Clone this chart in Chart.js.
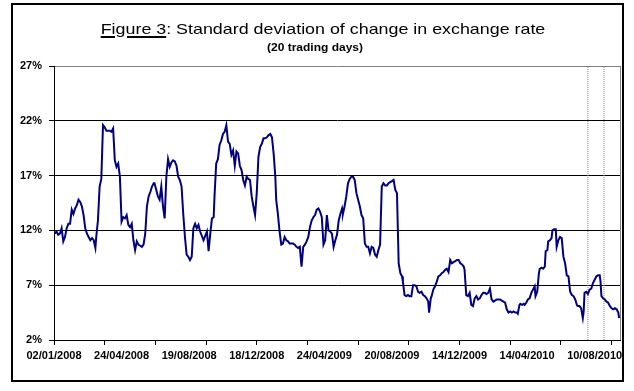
<!DOCTYPE html>
<html>
<head>
<meta charset="utf-8">
<script src="https://cdn.jsdelivr.net/npm/chart.js@4.4.0/dist/chart.umd.min.js"></script>
<style>
  html, body { margin: 0; padding: 0; background: #fff; }
  #wrap { position: relative; width: 634px; height: 391px; overflow: hidden; font-family: "Liberation Sans", Arial, sans-serif; }
  #frame { position: absolute; left: 11px; top: 3px; width: 613px; height: 379px; box-sizing: border-box; border: 2px solid #000; }
  canvas { position: absolute; left: 0; top: 0; }
  .ttl { position: absolute; white-space: nowrap; color: #000; line-height: 1; }
  #title { left: 323px; top: 21px; font-size: 15px; transform: translateX(-50%) scaleX(1.19); }
  #title u { text-decoration-thickness: 2px; text-underline-offset: 2px; }
  #sub { left: 315px; top: 43px; font-size: 10px; font-weight: bold; transform: translateX(-50%) scaleX(1.2); }
</style>
</head>
<body>
<div id="wrap">
  <div id="frame"></div>
  <canvas id="volChart" width="634" height="391"></canvas>
  <div id="title" class="ttl"><u>Figure 3</u>: Standard deviation of change in exchange rate</div>
  <div id="sub" class="ttl">(20 trading days)</div>
</div>
<script>
// trading day number (0 = 02/01/2008)
var tradingDay = [
  // 2008
  1,3,5,7,9,11,13,15,17,19,21,23,25,27,29,31,33,35,37,39,41,43,45,47,49,
  50,52,54,56,58,60,62,64,66,68,70,72,74,76,78,80,82,84,86,88,90,92,94,96,98,
  100,102,104,106,108,110,112,114,116,118,119,121,123,125,127,129,131,133,135,137,
  139,141,143,145,147,149,151,153,155,157,159,161,163,165,167,169,171,173,
  177,181,183,185,187,189,190,192,194,196,198,200,202,204,206,208,210,212,214,216,
  218,220,222,224,226,228,230,232,234,236,238,240,242,244,246,248,250,252,254,256,
  258,260,262,263,265,267,269,271,273,275,277,279,281,283,285,287,289,291,293,295,
  297,299,301,303,305,307,309,311,313,315,317,319,321,323,325,327,329,331,333,335,
  337,339,341,342,344,346,348,350,352,354,356,358,360,362,364,366,368,370,372,374,
  376,378,380,382,384,386,388,390,392,394,396,398,400,402,404,406,408,410,
  // after 20/08/2009
  412,413,415,417,419,421,423,425,427,429,431,433,435,437,439,441,443,444,446,447,
  449,451,453,455,457,459,461,463,465,467,469,471,473,475,477,479,481,483,485,486,
  488,490,492,494,496,498,500,502,504,506,508,510,512,514,516,518,520,522,524,526,
  528,530,532,534,536,538,540,542,544,546,548,549,551,552,554,556,557,559,561,563,
  565,567,569,570,572,574,575,577,579,581,582,584,585,587,589,590,592,594,595,597,
  599,601,603,605,607,609,611,613,615,617,619,620,622,624,626,627,628,630,632,634,
  636,638,640,642,644,646,647,648,650,652,654,656,658,660,662,664,666,668,669
];

// standard deviation (%)
var stdDev = [
  11.7,11.9,11.6,11.7,12.2,11.0,11.4,12.2,12.6,12.6,13.9,13.5,14.0,14.3,14.8,14.6,14.2,13.4,12.2,11.7,
  11.4,11.1,11.3,11.1,10.4,11.4,12.9,16.0,16.7,21.6,21.4,21.1,21.1,21.1,21.0,21.3,18.4,17.8,18.1,16.9,
  12.8,13.2,13.1,13.4,12.5,12.3,12.6,11.1,10.2,11.0,10.7,10.6,10.5,10.7,11.7,14.2,15.1,15.5,16.0,16.3,
  16.3,15.7,15.1,14.8,16.0,14.2,13.1,16.9,18.5,17.8,18.2,18.4,18.3,17.9,16.9,16.6,16.0,13.5,11.4,9.8,
  9.6,9.3,9.6,12.2,12.6,12.2,12.5,11.9,
  11.1,11.9,10.1,11.7,13.1,13.2,15.1,18.1,18.5,19.8,20.2,20.8,21.0,21.6,20.1,19.9,18.9,19.3,17.9,19.2,
  19.0,17.9,17.5,16.6,16.1,16.9,16.7,16.6,15.1,14.2,13.4,15.4,18.7,19.6,19.9,20.4,20.4,20.5,20.7,20.8,
  20.5,19.0,16.9,14.8,13.5,11.9,10.7,10.8,11.4,11.1,11.0,10.8,10.8,10.8,10.7,10.5,10.4,10.5,8.7,10.5,
  10.7,11.0,11.4,12.3,12.9,13.2,13.4,13.9,14.0,13.7,13.2,10.7,11.1,13.4,12.0,11.9,11.7,10.5,11.1,11.6,
  12.9,13.5,14.0,13.5,14.2,15.1,16.3,16.7,16.9,16.9,16.6,15.4,14.8,14.2,13.4,13.1,10.8,10.5,10.5,9.9,
  10.5,10.4,9.8,9.6,10.2,10.7,16.0,16.3,16.1,16.1,16.3,16.4,16.5,16.6,15.7,15.4,9.0,8.1,
  7.8,7.3,6.1,6.0,6.1,6.0,6.0,7.0,7.0,6.9,6.4,6.3,6.4,6.1,6.0,5.8,5.5,4.5,5.8,6.0,
  6.6,6.9,7.3,7.8,7.9,8.1,8.2,8.4,8.5,8.2,9.3,9.0,9.1,9.2,9.3,9.3,9.0,8.9,8.7,8.4,
  6.1,6.0,6.3,5.2,5.1,5.8,6.0,5.7,5.8,6.1,6.3,6.3,6.2,6.3,6.7,5.7,5.5,5.6,5.7,5.7,
  5.7,5.6,5.5,5.4,4.8,4.5,4.6,4.5,4.6,4.5,4.5,4.4,5.2,5.3,5.2,5.3,5.2,5.4,5.7,5.8,
  6.3,6.6,6.9,6.0,6.4,8.1,8.5,8.6,8.5,8.7,10.1,10.2,11.0,11.1,11.3,12.0,12.1,12.1,10.5,11.1,
  11.4,11.3,9.6,9.0,7.9,7.8,6.4,6.1,6.0,5.7,5.2,5.1,5.1,4.9,4.0,4.6,6.3,6.4,6.2,6.6,
  6.7,7.2,7.5,7.8,7.9,7.9,7.3,6.0,5.8,5.7,5.5,5.4,5.1,4.9,4.8,4.9,4.8,4.5,4.0
];

// date labels and the trading day each one sits on
var xLabels = ['02/01/2008', '24/04/2008', '19/08/2008', '18/12/2008', '24/04/2009',
               '20/08/2009', '14/12/2009', '14/04/2010', '10/08/2010'];
var labelDays = [0, 80, 160, 240, 320, 400, 480, 560, 640];
// tick marks on the date axis
var tickDays = [0, 60, 120, 180, 240, 300, 360, 420, 480, 540, 600, 660];
var lastDay = 670;

var yTicks = [2, 7, 12, 17, 22, 27];

// dotted vertical markers
var markerDays = [632, 651];

var FONT = '"Liberation Sans", Arial, sans-serif';

// all positions where the date axis needs a tick (label or mark)
var axisDays = labelDays.concat(tickDays).filter(function (v, i, a) { return a.indexOf(v) === i; })
  .sort(function (a, b) { return a - b; });

var series = tradingDay.map(function (d, i) { return { x: d, y: stdDev[i] }; });

var datasets = [{
  data: series,
  borderColor: '#000080',
  borderWidth: 2,
  pointRadius: 0,
  tension: 0,
  order: 0
}];
markerDays.forEach(function (d) {
  datasets.push({
    data: [{ x: d, y: yTicks[0] }, { x: d, y: yTicks[yTicks.length - 1] }],
    borderColor: '#808080',
    borderWidth: 1,
    borderDash: [1, 1],
    pointRadius: 0,
    order: 1
  });
});

// grey right edge of the plot area
var plotEdge = {
  id: 'plotEdge',
  beforeDatasetsDraw: function (chart) {
    var a = chart.chartArea, ctx = chart.ctx;
    var x = Math.round(a.right) + 0.5;
    ctx.save();
    ctx.strokeStyle = '#808080';
    ctx.lineWidth = 1;
    ctx.beginPath();
    ctx.moveTo(x, a.top);
    ctx.lineTo(x, a.bottom);
    ctx.stroke();
    ctx.restore();
  }
};

var ctx = document.getElementById('volChart').getContext('2d');
var volChart = new Chart(ctx, {
  type: 'line',
  data: { datasets: datasets },
  plugins: [plotEdge],
  options: {
    responsive: false,
    animation: false,
    devicePixelRatio: 1,
    events: [],
    layout: { padding: { left: 10, right: 14, top: 66, bottom: 27 } },
    plugins: { legend: { display: false }, tooltip: { enabled: false } },
    scales: {
      x: {
        type: 'linear',
        min: 0,
        max: lastDay,
        afterBuildTicks: function (s) { s.ticks = axisDays.map(function (v) { return { value: v }; }); },
        afterFit: function (s) { s.height = 24; },
        grid: {
          drawOnChartArea: false,
          tickLength: 5,
          tickColor: function (c) { return c.tick && tickDays.indexOf(c.tick.value) >= 0 ? '#000' : 'rgba(0,0,0,0)'; }
        },
        border: { color: '#000', width: 1 },
        ticks: {
          autoSkip: false,
          maxRotation: 0,
          minRotation: 0,
          padding: 4,
          color: '#000',
          font: { family: FONT, size: 11, weight: 'bold' },
          callback: function (v) {
            var i = labelDays.indexOf(v);
            return i < 0 ? '' : xLabels[i];
          }
        }
      },
      y: {
        min: yTicks[0],
        max: yTicks[yTicks.length - 1],
        afterBuildTicks: function (s) { s.ticks = yTicks.map(function (v) { return { value: v }; }); },
        afterFit: function (s) { s.width = 44; },
        grid: {
          color: function (c) { return c.tick && c.tick.value === 27 ? '#808080' : '#000'; },
          tickColor: '#000',
          tickLength: 5
        },
        border: { color: '#000', width: 1 },
        ticks: {
          padding: 7,
          color: '#000',
          font: { family: FONT, size: 11, weight: 'bold' },
          callback: function (v) { return v + '%'; }
        }
      }
    }
  }
});
</script>
</body>
</html>
